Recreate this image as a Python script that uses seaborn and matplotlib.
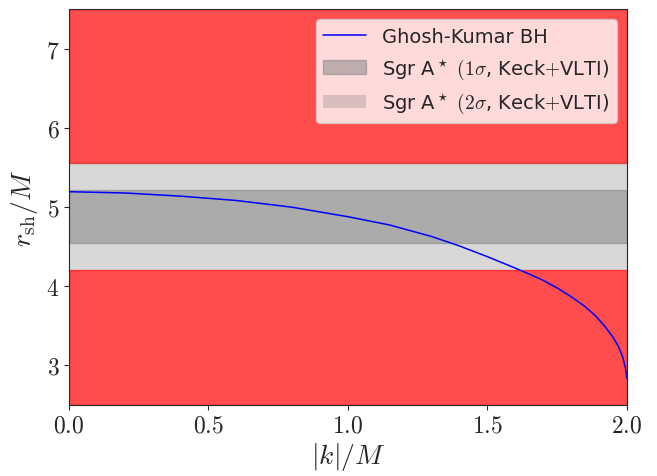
import matplotlib
matplotlib.use("Agg")
import numpy as np
import pandas as pd
import matplotlib.pyplot as plt
import seaborn as sns

# Shadow radius of the Ghosh-Kumar black hole
k_vals = [0.0, 0.2, 0.4, 0.6, 0.8, 1.0, 1.15, 1.3, 1.4, 1.5, 1.6, 1.65, 1.70, 1.75,
          1.80, 1.85, 1.89, 1.92, 1.95, 1.97, 1.986, 1.995, 2.0]
r_sh = [5.196, 5.18, 5.14, 5.085, 5.00, 4.88, 4.775, 4.63, 4.51, 4.375, 4.23, 4.155, 4.075, 3.98,
        3.87, 3.745, 3.62, 3.50, 3.36, 3.24, 3.10, 2.97, 2.84]

# Sgr A* bounds (Keck + VLTI)
sigma1 = [4.55, 5.22]
sigma2 = [4.21, 5.56]

xlim = [0.0, 2.0]
ylim = [2.5, 7.5]

sns.set_style("ticks")
plt.rcParams["font.family"] = "serif"
plt.rcParams["font.serif"] = ["cmr10", "DejaVu Serif"]
plt.rcParams["mathtext.fontset"] = "cm"
plt.rcParams["axes.formatter.use_mathtext"] = True
plt.rcParams["axes.unicode_minus"] = False

fig = plt.figure(figsize=(6.57, 4.77), dpi=100)
ax = fig.add_axes([0.105, 0.149, 0.849, 0.829])

df = pd.DataFrame({"k": k_vals, "r": r_sh})

# excluded regions
ax.axhspan(ylim[0], sigma2[0], color="red", alpha=0.7, lw=1)
ax.axhspan(sigma2[1], ylim[1], color="red", alpha=0.7, lw=1)
# allowed bands
ax.axhspan(sigma2[0], sigma2[1], facecolor="gray", alpha=0.3, lw=0,
           label=r"Sgr A$^\star$ $(2\sigma$, Keck$+$VLTI)")
ax.axhspan(sigma1[0], sigma1[1], facecolor="gray", edgecolor="gray", alpha=0.5, lw=1,
           label=r"Sgr A$^\star$ $(1\sigma$, Keck$+$VLTI)")

sns.lineplot(data=df, x="k", y="r", ax=ax, color="blue", lw=1.1,
             label="Ghosh-Kumar BH", sort=False)

ax.set_xlim(xlim)
ax.set_ylim(ylim)
ax.set_xticks([0.0, 0.5, 1.0, 1.5, 2.0])
ax.set_yticks([3, 4, 5, 6, 7])
ax.tick_params(labelsize=17)
ax.set_xlabel(r"$|k|/M$", fontsize=20, labelpad=2)
ax.set_ylabel(r"$r_{\rm sh}/M$", fontsize=20, labelpad=4)

handles, labels = ax.get_legend_handles_labels()
order = [2, 1, 0]
leg = ax.legend([handles[i] for i in order], [labels[i] for i in order],
                loc="upper right", framealpha=0.8, handlelength=2.2,
                prop={"family": "DejaVu Sans", "size": 14})
for sp in ax.spines.values():
    sp.set_linewidth(0.8)

fig.savefig("out.png", dpi=100)
